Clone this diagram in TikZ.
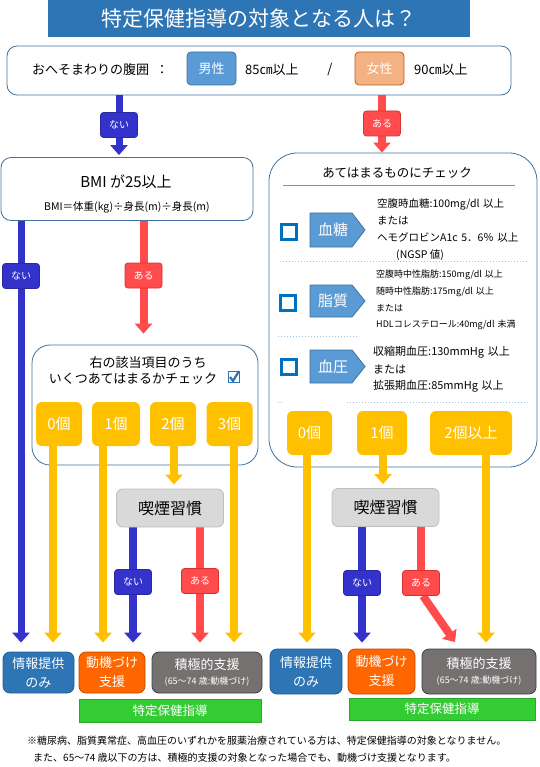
\documentclass[tikz,border=0pt]{standalone}
\usepackage{fontspec}
\setmainfont{Noto Sans CJK JP}
\usetikzlibrary{arrows.meta,calc}
\definecolor{tblue}{HTML}{2E75B6}
\definecolor{arB}{HTML}{3333CC}
\definecolor{arBd}{HTML}{2A2AA0}
\definecolor{arR}{HTML}{FF4B4B}
\definecolor{arRd}{HTML}{D93030}
\definecolor{yel}{HTML}{FFC000}
\definecolor{smk}{HTML}{D9D9D9}
\definecolor{smkd}{HTML}{BFBFBF}
\definecolor{org}{HTML}{FF6600}
\definecolor{orgd}{HTML}{C04A00}
\definecolor{gry}{HTML}{767171}
\definecolor{gryd}{HTML}{404040}
\definecolor{grn}{HTML}{33CC33}
\definecolor{grnd}{HTML}{2BA82B}
\definecolor{men}{HTML}{5B9BD5}
\definecolor{mend}{HTML}{41719C}
\definecolor{wom}{HTML}{F4B183}
\definecolor{womd}{HTML}{C55A11}
\definecolor{cb}{HTML}{41719C}
\definecolor{chkc}{HTML}{0070C0}
\definecolor{sepc}{HTML}{9DC3E6}
\newcommand\fsz[2]{\fontsize{#1}{#2}\selectfont}
\pgfdeclarelayer{bg}
\pgfdeclarelayer{fg}
\pgfsetlayers{bg,main,fg}
\begin{document}
\begin{tikzpicture}[x=1pt,y=-1pt,
  every node/.style={inner sep=0pt, align=center},
  lab/.style={rounded corners=3pt, text=white, minimum width=37, minimum height=25, font=\fsz{10}{12}, line width=0.8},
  labB/.style={lab, fill=arB, draw=arBd},
  labR/.style={lab, fill=arR, draw=arRd},
  ybox/.style={fill=yel, rounded corners=6, text=white, minimum height=44, font=\fsz{15}{18}},
  smoke/.style={fill=smk, draw=smkd, line width=0.8, rounded corners=6, minimum width=107, minimum height=38, font=\fsz{16}{19}},
  res/.style={rounded corners=7, text=white, line width=0.8},
  greenbox/.style={fill=grn, draw=grnd, line width=0.6, text=white, font=\fsz{12.5}{15}},
  cont/.style={draw=cb, line width=0.8, fill=white},
  cbox/.style={draw=chkc, line width=3.5, minimum size=15, fill=white},
  pent/.style={fill=men, draw=mend, line width=0.8},
  small/.style={anchor=west, font=\fsz{10.5}{12}},
  tiny/.style={anchor=west, font=\fsz{9}{11}},
  sepl/.style={draw=sepc, line width=1, dotted},
  tip/.style={-{Triangle[width=17pt,length=10pt]}},
  arrB/.style={draw=arB, line width=7, tip},
  arrR/.style={draw=arR, line width=8, tip},
  arrY/.style={draw=yel, line width=8, tip}]
\useasboundingbox (0,0) rectangle (539,767);

% ---------- containers (background) ----------
\begin{pgfonlayer}{bg}
\node[cont, rounded corners=10, minimum width=504, minimum height=49] (waist) at (259,70.5) {};
\node[cont, rounded corners=10, minimum width=252, minimum height=63] (bmi) at (127,189) {};
\node[cont, rounded corners=18, minimum width=226, minimum height=120] (chkL) at (145,405) {};
\node[cont, rounded corners=28, minimum width=268, minimum height=314] (chk) at (403,310) {};
\end{pgfonlayer}

% ---------- boxes and labels (foreground) ----------
\begin{pgfonlayer}{fg}
\node[fill=tblue, minimum width=422, minimum height=37, text=white, font=\fsz{21}{24}] (title) at (259,18.5) {特定保健指導の対象となる人は？};

\node[anchor=west, font=\fsz{13}{15}] (waisttxt) at (32,70) {おへそまわりの腹囲};
\node[font=\fsz{13}{15}] (colon) at (162,70) {：};
\node[fill=men, draw=mend, line width=0.8, rounded corners=4, minimum width=49, minimum height=33, text=white, font=\fsz{13}{15}] (menbox) at (211.5,68.5) {男性};
\node[anchor=west, font=\fsz{13}{15}] (men85) at (245,70) {85㎝以上};
\node[font=\fsz{13}{15}] (slash) at (330,70) {/};
\node[fill=wom, draw=womd, line width=0.8, rounded corners=4, minimum width=49, minimum height=33, text=white, font=\fsz{13}{15}] (wombox) at (379.5,68.5) {女性};
\node[anchor=west, font=\fsz{13}{15}] (wom90) at (414,70) {90㎝以上};

\node[labB] (nai0) at (119,125) {ない};
\node[labR] (ari0) at (382,123.5) {ある};

\node[font=\fsz{15}{18}] (bmit) at (126,182) {BMI が25以上};
\node[font=\fsz{10.5}{12}] (bmif) at (127,207) {BMI＝体重(kg)÷身長(m)÷身長(m)};

\node[labB] (nai1) at (21,276) {ない};
\node[labR] (ari1) at (143.5,275.5) {ある};

% left check box
\node[font=\fsz{13}{15}] (lq1) at (148,363) {右の該当項目のうち};
\node[font=\fsz{13}{15}] (lq2) at (133,379) {いくつあてはまるかチェック};
\node[draw=tblue, line width=1.6, fill=white, minimum size=11] (lqc) at (234,377) {};
\draw[draw=tblue, line width=2.2] ($(lqc.center)+(-4,0)$) -- ($(lqc.center)+(-1,4)$) -- ($(lqc.center)+(5,-6)$);
\node[ybox, minimum width=46] (yL0) at (59,424) {0個};
\node[ybox, minimum width=48] (yL1) at (116,424) {1個};
\node[ybox, minimum width=46] (yL2) at (173,424) {2個};
\node[ybox, minimum width=46] (yL3) at (229.5,424) {3個};
\node[smoke] (smL) at (170,508) {喫煙習慣};
\node[labB] (naiL2) at (133,582) {ない};
\node[labR] (ariL2) at (200,581) {ある};

% right check box
\node[font=\fsz{12.5}{15}] (rh) at (397,173) {あてはまるものにチェック};
\draw[draw=men, line width=1] (283,186) -- (515,186);

\node[cbox] (c1) at (289,232) {};
\fill[pent] (310,213) -- (352,213) -- (365,230) -- (352,247) -- (310,247) -- cycle;
\node[text=white, font=\fsz{15}{17}] (p1) at (333,230) {血糖};
\node[small] (t11) at (377,204) {空腹時血糖:100mg/dl\,\,以上};
\node[small] (t12) at (377,221) {または};
\node[small] (t13) at (377,238) {ヘモグロビンA1c\,\,5．6％\,\,以上};
\node[small] (t14) at (396,255) {(NGSP 値)};
\draw[sepl] (280,261) -- (528,261);

\node[cbox] (c2) at (288,303) {};
\fill[pent] (310,285) -- (352,285) -- (365,301) -- (352,317) -- (310,317) -- cycle;
\node[text=white, font=\fsz{15}{17}] (p2) at (333,301) {脂質};
\node[tiny] (t21) at (376,275) {空腹時中性脂肪:150mg/dl\,\,以上};
\node[tiny] (t22) at (376,292) {随時中性脂肪:175mg/dl\,\,以上};
\node[tiny] (t23) at (376,308) {または};
\node[tiny] (t24) at (376,325) {HDLコレステロール:40mg/dl\,\,未満};
\draw[sepl] (278,336) -- (358,336);

\node[cbox] (c3) at (289,367) {};
\fill[pent] (310,350) -- (352,350) -- (365,366.5) -- (352,383) -- (310,383) -- cycle;
\node[text=white, font=\fsz{15}{17}] (p3) at (333,366.5) {血圧};
\node[small, font=\fsz{11}{13}] (t31) at (373,352) {収縮期血圧:130mmHg\,\,以上};
\node[small, font=\fsz{11}{13}] (t32) at (373,369) {または};
\node[small, font=\fsz{11}{13}] (t33) at (373,386) {拡張期血圧:85mmHg\,\,以上};
\draw[sepl] (278,402) -- (283,402);
\draw[sepl] (347,402) -- (530,402);

\node[ybox, minimum width=45] (yR0) at (309.5,433) {0個};
\node[ybox, minimum width=50] (yR1) at (382,433) {1個};
\node[ybox, minimum width=82] (yR2) at (471,433) {2個以上};
\node[smoke] (smR) at (385.5,507.5) {喫煙習慣};
\node[labB] (naiR2) at (362,583) {ない};
\node[labR] (ariR2) at (421,583) {ある};

% results left
\node[res, fill=tblue, draw=tblue!80!black, minimum width=71, minimum height=41, font=\fsz{13}{19}] (resL1) at (38.5,672.5) {情報提供\\のみ};
\node[res, fill=org, draw=orgd, minimum width=66, minimum height=41, font=\fsz{13}{19}] (resL2) at (112,672.5) {動機づけ\\支援};
\node[res, fill=gry, draw=gryd, minimum width=110, minimum height=41] (resL3) at (207,672.5) {{\fsz{13}{15}積極的支援}\\[3pt]{\fsz{9}{11}(65～74 歳:動機づけ)}};
\node[greenbox, minimum width=182, minimum height=23] (gL) at (170,710.5) {特定保健指導};

% results right
\node[res, fill=tblue, draw=tblue!80!black, minimum width=72, minimum height=45, font=\fsz{13}{19}] (resR1) at (306,671.5) {情報提供\\のみ};
\node[res, fill=org, draw=orgd, minimum width=67, minimum height=45, font=\fsz{13}{19}] (resR2) at (381.5,671.5) {動機づけ\\支援};
\node[res, fill=gry, draw=gryd, minimum width=114, minimum height=45] (resR3) at (479,671.5) {{\fsz{13}{15}積極的支援}\\[3pt]{\fsz{9}{11}(65～74 歳:動機づけ)}};
\node[greenbox, minimum width=186, minimum height=22] (gR) at (442,709) {特定保健指導};

% footnote
\node[anchor=west, font=\fsz{10}{12}] (fn1) at (27,741) {※糖尿病、脂質異常症、高血圧のいずれかを服薬治療されている方は、特定保健指導の対象となりません。};
\node[anchor=west, font=\fsz{10}{12}] (fn2) at (33,758) {また、65～74 歳以下の方は、積極的支援の対象となった場合でも、動機づけ支援となります。};
\end{pgfonlayer}

% ---------- connectors ----------
\coordinate (ly0) at (53,446);
\coordinate (ly1) at (103,446);
\coordinate (ly2) at (174,446);
\coordinate (ly3) at (234,446);
\coordinate (ry0) at (307,455);
\coordinate (ry1) at (383,455);
\coordinate (ry2) at (486,455);
\coordinate (tipR) at (455,642);

\draw[arrB, shorten >=2pt] (waist.south -| nai0) -- (nai0 |- bmi.north);
\draw[arrR] (waist.south -| ari0) -- (ari0 |- chk.north);
\draw[arrB, shorten >=9pt] (bmi.south -| nai1) -- (nai1 |- resL1.north);
\draw[arrR, shorten >=11pt] (bmi.south -| ari1) -- (ari1 |- chkL.north);

\draw[arrY, shorten >=9pt] (ly0) -- (ly0 |- resL1.north);
\draw[arrY, shorten >=9pt] (ly1) -- (ly1 |- resL2.north);
\draw[arrY, shorten >=4pt] (ly2) -- (ly2 |- smL.north);
\draw[arrY, shorten >=9pt] (ly3) -- (ly3 |- resL3.north);
\draw[arrB, line width=8, shorten >=9pt] (smL.south -| naiL2) -- (naiL2 |- resL2.north);
\draw[arrR, shorten >=9pt] (smL.south -| ariL2) -- (ariL2 |- resL3.north);

\draw[arrY, shorten >=6pt] (ry0) -- (ry0 |- resR1.north);
\draw[arrY, shorten >=4pt] (ry1) -- (ry1 |- smR.north);
\draw[arrY, shorten >=6pt] (ry2) -- (ry2 |- resR3.north);
\draw[arrB, line width=8, shorten >=6pt] (smR.south -| naiR2) -- (naiR2 |- resR2.north);
\draw[draw=arR, line width=8] (smR.south -| ariR2) -- (ariR2.north);
\draw[arrR] ([xshift=2pt]ariR2.south) -- (tipR);
\end{tikzpicture}
\end{document}
